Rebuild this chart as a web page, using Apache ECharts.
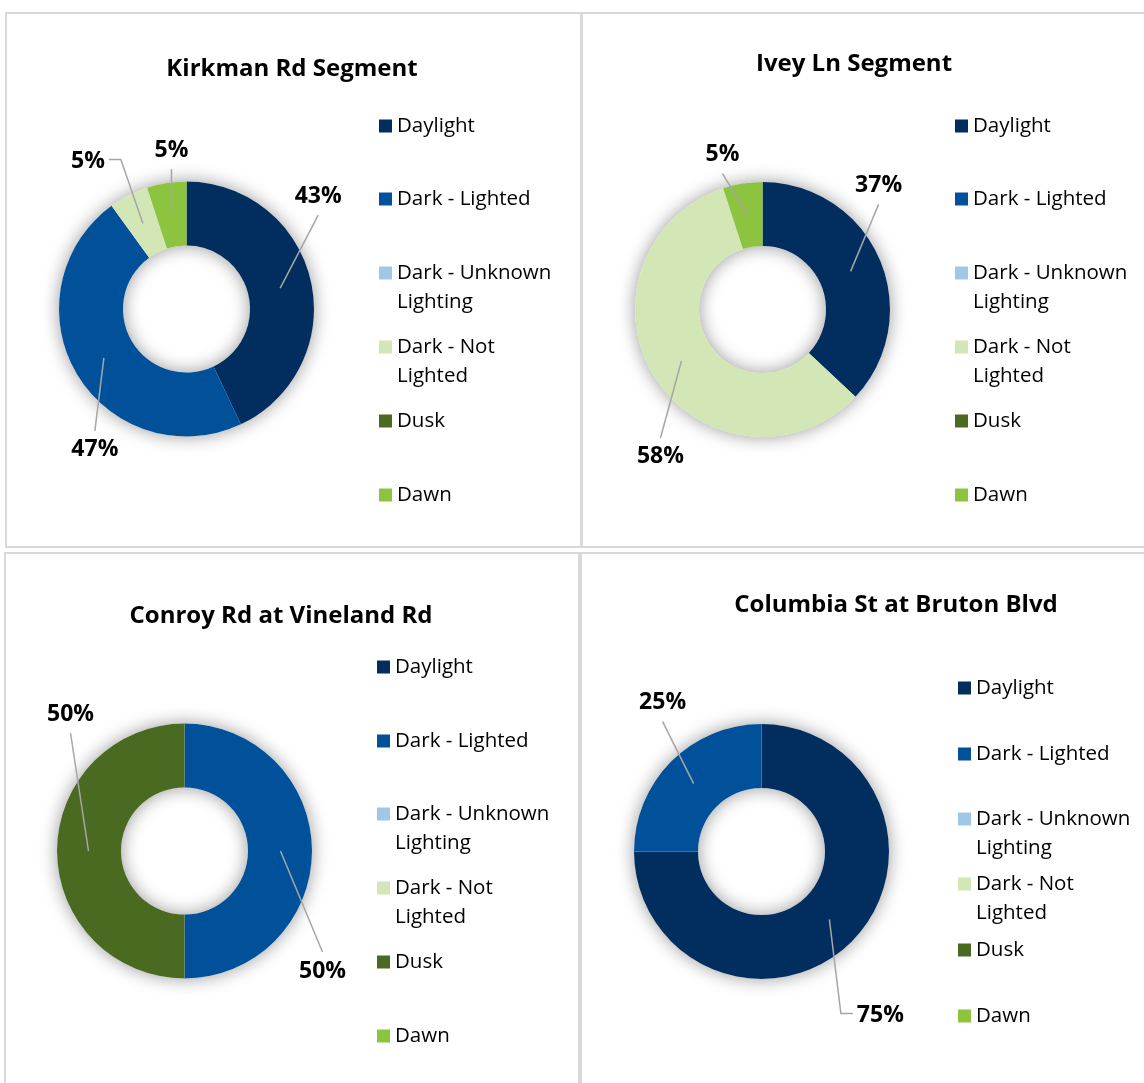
<!DOCTYPE html>
<html>
<head>
<meta charset="utf-8">
<script src="https://cdn.jsdelivr.net/npm/echarts@6/dist/echarts.min.js"></script>
<style>
  html, body { margin: 0; padding: 0; background: #fff; }
  #chart { width: 1144px; height: 1083px; }
</style>
</head>
<body>
<div id="chart"></div>
<script>
// ---- data ----
const categories = ['Daylight', 'Dark - Lighted', 'Dark - Unknown Lighting', 'Dark - Not Lighted', 'Dusk', 'Dawn'];
const legendLabels = ['Daylight', 'Dark - Lighted', 'Dark - Unknown\nLighting', 'Dark - Not\nLighted', 'Dusk', 'Dawn'];
const titles = ['Kirkman Rd Segment', 'Ivey Ln Segment', 'Conroy Rd at Vineland Rd', 'Columbia St at Bruton Blvd'];
const kirkmanValues = [43, 47, 0, 5, 0, 5];
const iveyValues = [37, 0, 0, 58, 0, 5];
const conroyValues = [0, 50, 0, 0, 50, 0];
const columbiaValues = [75, 25, 0, 0, 0, 0];
const allValues = [kirkmanValues, iveyValues, conroyValues, columbiaValues];

// ---- styles / layout ----
const colors = ['#022d5f', '#00509a', '#9fc8e8', '#d2e7b5', '#4b6a21', '#8cc43f'];
const FONT = '"Open Sans", "Noto Sans", sans-serif';
const panels = [
  { title: [292, 69], center: [186.5, 309], legendX: 379, legendY: [126, 199, 273, 347, 421, 495] },
  { title: [854, 64], center: [762.5, 309.5], legendX: 955, legendY: [126, 199, 273, 347, 421, 495] },
  { title: [281, 616], center: [184.5, 851], legendX: 377, legendY: [667, 741, 814, 888, 962, 1036] },
  { title: [896, 605], center: [761.5, 851.5], legendX: 958, legendY: [688, 754, 819, 884, 950, 1016] }
];
// label placement (offset of label centre from leader-line start, and leader style)
const labelPlacement = [
  [[38, -92, 'v'], [-9, 92, 'v'], null, [-55, -62, 'h'], null, [0, -64, 'v']],
  [[28, -86, 'v'], null, null, [-21, 96, 'v'], null, [-25, -60, 'v']],
  [null, [42, 120, 'v'], null, null, [-18, -137, 'v'], null],
  [[51, 96, 'h'], [-31, -81, 'v'], null, null, null, null]
];
const R_OUT = 127.5, R_IN = 63.5, R_LBL = 96;

const option = {
  animation: false,
  backgroundColor: '#ffffff',
  color: colors,
  title: [],
  legend: [],
  series: [],
  graphic: [
    { type: 'rect', shape: { x: 6, y: 13, width: 575, height: 534 }, style: { fill: 'none', stroke: '#d9d9d9', lineWidth: 2 }, silent: true },
    { type: 'rect', shape: { x: 582, y: 13, width: 580, height: 534 }, style: { fill: 'none', stroke: '#d9d9d9', lineWidth: 2 }, silent: true },
    { type: 'rect', shape: { x: 5, y: 553, width: 574, height: 545 }, style: { fill: 'none', stroke: '#d9d9d9', lineWidth: 2 }, silent: true },
    { type: 'rect', shape: { x: 581, y: 553, width: 580, height: 545 }, style: { fill: 'none', stroke: '#d9d9d9', lineWidth: 2 }, silent: true }
  ]
};

function makeLabelLayout(pi) {
  return function (params) {
    const place = labelPlacement[pi][params.dataIndex];
    const pts = params.labelLinePoints;
    if (!place || !pts) return {};
    const s = pts[0];
    const lx = s[0] + place[0], ly = s[1] + place[1];
    const hw = params.labelRect.width / 2;
    let line;
    if (place[2] === 'h') {
      const dir = place[0] >= 0 ? -1 : 1; // line approaches from label's near side
      const e1 = [lx + dir * (hw + 16), ly - 2];
      const e2 = [lx + dir * (hw + 4), ly - 2];
      line = [s, e1, e2];
    } else {
      const ey = place[1] < 0 ? ly + 19 : ly - 19;
      line = [s, [lx, ey], [lx, ey]];
    }
    return { x: lx, y: ly, align: 'center', verticalAlign: 'middle', labelLinePoints: line };
  };
}

panels.forEach((p, pi) => {
  const vals = allValues[pi];
  option.title.push({
    text: titles[pi], left: p.title[0], top: p.title[1], padding: 0,
    textAlign: 'center', textVerticalAlign: 'middle',
    textStyle: { fontFamily: FONT, fontSize: 24, fontWeight: 'bold', color: '#000' }
  });
  // shadow ring underneath
  option.series.push({
    type: 'pie', center: p.center, radius: [R_IN, R_OUT], silent: true, z: 1,
    label: { show: false }, labelLine: { show: false },
    itemStyle: { color: '#ffffff', shadowBlur: 18, shadowColor: 'rgba(0,0,0,0.4)' },
    data: [{ name: '__ring' + pi, value: 1 }]
  });
  // visible donut
  option.series.push({
    type: 'pie', center: p.center, radius: [R_IN, R_OUT], silent: true, z: 2,
    label: { show: false }, labelLine: { show: false },
    itemStyle: { borderWidth: 0 },
    data: categories.map((c, ci) => ({ name: c, value: vals[ci], itemStyle: { color: colors[ci] } }))
  });
  // label carrier (leader lines start inside the ring)
  option.series.push({
    type: 'pie', center: p.center, radius: [0, R_LBL], silent: true, z: 3,
    avoidLabelOverlap: false,
    itemStyle: { color: 'rgba(0,0,0,0)' },
    label: {
      show: true, position: 'outside', formatter: (d) => d.value + '%', overflow: 'none',
      fontFamily: FONT, fontSize: 23, fontWeight: 'bold', color: '#000'
    },
    labelLine: { show: true, length: 40, length2: 8, lineStyle: { color: '#a6a6a6', width: 1.5 } },
    labelLayout: makeLabelLayout(pi),
    data: categories.map((c, ci) => ({
      name: c, value: vals[ci],
      label: { show: vals[ci] > 0 }, labelLine: { show: vals[ci] > 0 }
    }))
  });
  // legend items
  categories.forEach((c, ci) => {
    const two = legendLabels[ci].indexOf('\n') >= 0;
    option.legend.push({
      left: p.legendX, top: p.legendY[ci] - (two ? 43.5 : 14.5),
      orient: 'vertical', padding: 0, itemGap: 0, icon: 'rect',
      itemWidth: 13, itemHeight: 13, selectedMode: false,
      data: [c],
      formatter: () => (two ? '\n' : '') + legendLabels[ci],
      textStyle: { fontFamily: FONT, fontSize: 20.5, color: '#000', lineHeight: 29 }
    });
  });
});

const chart = echarts.init(document.getElementById('chart'), null, { renderer: 'canvas' });
chart.setOption(option);
</script>
</body>
</html>
